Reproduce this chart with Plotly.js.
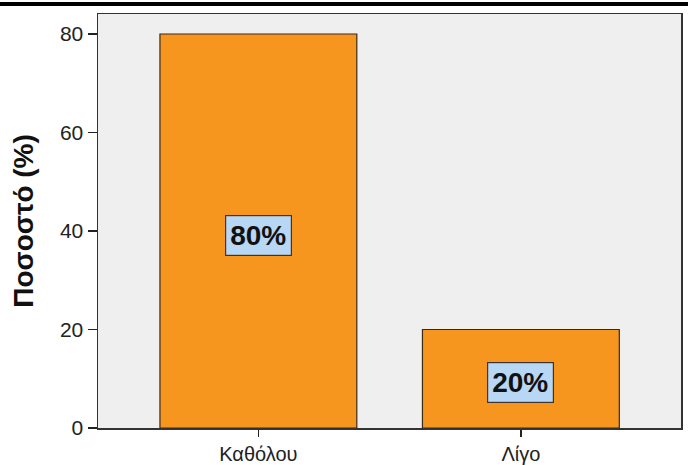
<!DOCTYPE html>
<html>
<head>
<meta charset="utf-8">
<script src="https://cdn.plot.ly/plotly-3.0.1.min.js"></script>
<style>html,body{margin:0;padding:0;background:#fff;}#chart{width:688px;height:465px;}</style>
</head>
<body>
<div id="chart"></div>
<script>
const categories = ["Καθόλου", "Λίγο"];
const values = [80, 20];
const valueLabels = ["80%", "20%"];
const yTickVals = [0, 20, 40, 60, 80];

const W = 688, H = 465;
const M = {l: 98, r: 7, t: 14, b: 37};
const pw = W - M.l - M.r, ph = H - M.t - M.b;

const trace = {
  type: 'bar',
  x: categories,
  y: values,
  width: 0.75,
  marker: {color: '#f7961e', line: {color: '#3a2a1a', width: 1.2}},
  hoverinfo: 'skip'
};

const annotations = categories.map((c, i) => ({
  x: c, y: values[i] / 2, xref: 'x', yref: 'y',
  text: '<b>' + valueLabels[i] + '</b>',
  showarrow: false,
  yshift: -4,
  font: {family: 'Arial, Liberation Sans, sans-serif', size: 28, color: '#111'},
  bgcolor: '#b8d7f4',
  bordercolor: '#3a3530',
  borderwidth: 1.2,
  borderpad: 4
}));

const layout = {
  width: W, height: H,
  margin: M,
  paper_bgcolor: '#ffffff',
  plot_bgcolor: '#efefef',
  showlegend: false,
  bargap: 0.25,
  font: {family: 'Arial, Liberation Sans, sans-serif', color: '#222'},
  xaxis: {
    type: 'category',
    range: [-0.611, 1.61],
    showline: true, mirror: true, linecolor: '#333', linewidth: 1.5,
    ticks: 'outside', ticklen: 7, tickwidth: 1.5, tickcolor: '#222',
    tickfont: {size: 20, color: '#222'},
    showgrid: false, zeroline: false, fixedrange: true
  },
  yaxis: {
    range: [0, 84.06],
    tickvals: yTickVals,
    showline: true, mirror: true, linecolor: '#333', linewidth: 1.5,
    ticks: 'outside', ticklen: 9, tickwidth: 1.5, tickcolor: '#222',
    tickfont: {size: 21, color: '#222'},
    showgrid: false, zeroline: false, fixedrange: true,
    title: {text: '<b>Ποσοστό (%)</b>', font: {size: 28, color: '#111'}, standoff: 18}
  },
  annotations: annotations,
  shapes: [{
    type: 'rect', xref: 'paper', yref: 'paper',
    x0: -M.l / pw, x1: 1 + M.r / pw,
    y0: 1 + (M.t - 6) / ph, y1: 1 + (M.t - 2) / ph,
    fillcolor: '#000', line: {width: 0}
  }]
};

Plotly.newPlot('chart', [trace], layout, {displayModeBar: false, staticPlot: true});
</script>
</body>
</html>
